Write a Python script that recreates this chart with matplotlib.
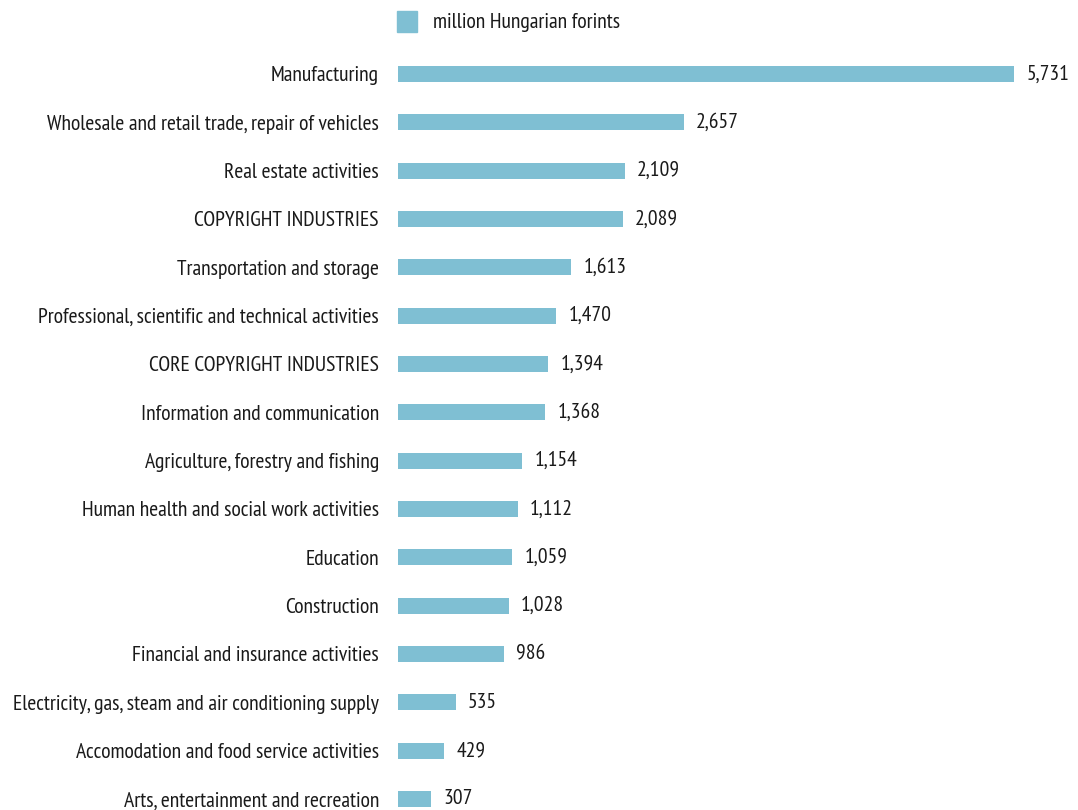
import matplotlib
matplotlib.use("Agg")
import matplotlib.pyplot as plt
from matplotlib.patches import Rectangle
from matplotlib import font_manager

categories = [
    "Manufacturing",
    "Wholesale and retail trade, repair of vehicles",
    "Real estate activities",
    "COPYRIGHT INDUSTRIES",
    "Transportation and storage",
    "Professional, scientific and technical activities",
    "CORE COPYRIGHT INDUSTRIES",
    "Information and communication",
    "Agriculture, forestry and fishing",
    "Human health and social work activities",
    "Education",
    "Construction",
    "Financial and insurance activities",
    "Electricity, gas, steam and air conditioning supply",
    "Accomodation and food service activities",
    "Arts, entertainment and recreation",
]
values = [5731, 2657, 2109, 2089, 1613, 1470, 1394, 1368, 1154, 1112, 1059, 1028, 986, 535, 429, 307]
series_name = "million Hungarian forints"

names = {f.name for f in font_manager.fontManager.ttflist}
fam = "DejaVu Sans"
for cand in ["PT Sans Narrow", "Myriad Pro Condensed", "Source Sans 3", "Fira Sans Condensed",
             "Roboto Condensed", "Open Sans Condensed", "IBM Plex Sans Condensed"]:
    if cand in names:
        fam = cand
        break
plt.rcParams['font.family'] = [fam, 'DejaVu Sans']

bar_color = "#7fbfd3"
text_color = "#1a1a1a"

fig = plt.figure(figsize=(10.78, 8.10), dpi=100)
renderer = fig.canvas.get_renderer()
probe = fig.text(0, 0, categories[0], fontsize=10)
w = probe.get_window_extent(renderer).width
probe.remove()
fs = 10 * 108.0 / w

ax = fig.add_axes([398/1078, 0.0, 1 - 398/1078, 1.0])
pos = list(range(len(categories)))
ax.barh(pos, values, height=0.33, color=bar_color)
ax.set_xlim(0, 6326)
ax.set_ylim(15.228, -1.531)
ax.set_yticks(pos)
ax.set_yticklabels(categories, fontsize=fs, color=text_color)
ax.tick_params(axis='y', length=0, pad=13.7)
ax.set_xticks([])
for s in ax.spines.values():
    s.set_visible(False)
for p, v in zip(pos, values):
    ax.annotate(f"{v:,}", (v, p), xytext=(9, 0), textcoords="offset points",
                va="center", ha="left", fontsize=fs, color=text_color)

fig.patches.append(Rectangle((397/1078, 1 - 32/810), 20/1078, 21/810,
                             transform=fig.transFigure, color=bar_color))
fig.text(433/1078, 1 - 22/810, series_name, fontsize=fs, color=text_color,
         va="center", ha="left")

fig.savefig("out.png", dpi=100)
